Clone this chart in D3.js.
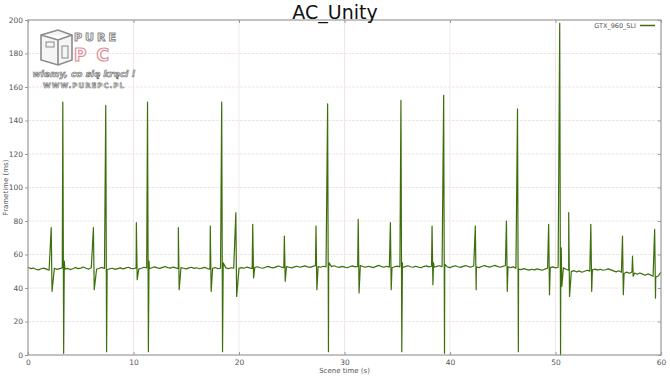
<!DOCTYPE html>
<html>
<head>
<meta charset="utf-8">
<script src="https://cdn.jsdelivr.net/npm/d3@7"></script>
<style>
  body { margin: 0; background: #fff; }
  svg { display: block; font-family: "DejaVu Sans", sans-serif; }
</style>
</head>
<body>
<div id="chart"></div>
<script>
// baseline frametime every 0.25 s (ms)
const baseStep = 0.25;
const baseline = [
  52.4, 51.6, 51.9, 51.2, 50.8, 51.5, 51.9, 51.3, 50.7, 51.4, 51.8, 51.1, 51.6, 52.0, 51.3, 51.7, 51.0, 51.5, 52.2, 51.6,
  51.9, 52.5, 51.8, 51.3, 52.1, 51.7, 51.2, 51.8, 52.3, 51.6, 50.9, 51.5, 51.8, 51.1, 51.6, 52.0, 51.4, 51.9, 52.4, 51.7,
  51.5, 52.0, 51.3, 51.8, 52.4, 52.0, 51.6, 52.1, 52.6, 52.0, 51.7, 52.3, 52.8, 52.2, 51.9, 52.5, 52.0, 51.6, 52.2, 51.8,
  51.4, 52.0, 52.4, 51.7, 52.1, 51.5, 51.9, 52.3, 51.6, 51.2, 51.8, 52.2, 51.5, 51.9, 52.4, 52.0, 51.6, 52.1, 51.8, 51.3,
  51.7, 52.2, 51.8, 52.5, 52.0, 51.6, 52.3, 52.7, 52.1, 51.8, 52.4, 52.9, 52.3, 52.0, 52.6, 53.1, 52.5, 52.2, 52.8, 52.4,
  52.0, 52.6, 53.0, 52.4, 52.8, 53.2, 52.6, 52.3, 52.9, 53.4, 52.8, 52.4, 53.0, 52.6, 52.2, 52.8, 53.3, 52.7, 52.3, 52.9,
  52.5, 52.1, 52.7, 53.2, 52.6, 52.9, 53.4, 52.8, 52.4, 53.0, 52.6, 52.2, 52.9, 53.5, 52.8, 52.4, 53.0, 52.5, 52.1, 52.7,
  53.1, 52.6, 52.2, 52.8, 53.3, 52.7, 52.4, 53.0, 52.5, 52.1, 52.8, 53.2, 52.6, 53.0, 52.4, 52.9, 53.3, 52.7, 52.2, 52.6,
  52.2, 52.8, 53.3, 52.7, 52.3, 52.9, 53.4, 52.8, 52.5, 53.1, 52.6, 52.2, 52.8, 53.4, 52.9, 52.5, 53.0, 53.5, 52.9, 52.4,
  52.9, 53.3, 52.7, 52.2, 52.6, 51.8, 51.3, 51.0, 51.6, 51.1, 50.7, 51.2, 50.8, 51.4, 51.0, 50.6, 51.3, 51.8, 52.2, 52.6,
  52.0, 52.4, 51.6, 52.1, 51.2, 50.6, 49.8, 50.4, 49.6, 50.2, 49.4, 50.0, 50.6, 50.1, 50.8, 51.3, 50.7, 51.2, 50.6, 50.9,
  51.4, 50.8, 50.2, 49.6, 50.3, 49.4, 48.7, 49.5, 48.8, 49.6, 48.9, 48.2, 49.0, 48.3, 47.6, 48.4, 47.8, 47.0, 46.5, 47.2,
  49.5
];

// stutter frames [time s, frametime ms]
const spikes = [
  [2.2, 76], [2.28, 38],
  [3.3, 151], [3.38, 1], [3.44, 56],
  [6.2, 76], [6.28, 39],
  [7.37, 149], [7.45, 2],
  [10.27, 79], [10.35, 45],
  [11.33, 151], [11.41, 2], [11.47, 56],
  [14.25, 76], [14.33, 39],
  [17.28, 77], [17.36, 38],
  [18.36, 151], [18.44, 2], [18.5, 55],
  [19.7, 85], [19.78, 35],
  [21.3, 78], [21.38, 46],
  [24.3, 71], [24.38, 44],
  [27.3, 77], [27.38, 39],
  [28.4, 150], [28.48, 2], [28.54, 55],
  [31.3, 81], [31.38, 37],
  [34.35, 79], [34.43, 39],
  [35.35, 152], [35.43, 2], [35.49, 55],
  [38.3, 77], [38.38, 42], [38.44, 55],
  [39.4, 155], [39.48, 1], [39.54, 54],
  [42.4, 77], [42.48, 39],
  [45.35, 80], [45.43, 38],
  [46.4, 147], [46.48, 2],
  [49.35, 78], [49.43, 36],
  [50.4, 198], [50.48, 0], [50.54, 64], [50.6, 41],
  [51.25, 85], [51.33, 35],
  [53.35, 78], [53.43, 38],
  [56.35, 71], [56.43, 36],
  [57.3, 59], [57.36, 47],
  [59.4, 75], [59.48, 34]
];

const xTicks = [0, 10, 20, 30, 40, 50, 60];
const yTicks = [0, 20, 40, 60, 80, 100, 120, 140, 160, 180, 200];
const seriesName = "GTX_960_SLI";

const W = 670, H = 377;
const margin = { top: 20, right: 9, bottom: 22, left: 28 };

const svg = d3.select("#chart").append("svg")
  .attr("width", W)
  .attr("height", H);

const x = d3.scaleLinear().domain([0, 60]).range([margin.left, W - margin.right]);
const y = d3.scaleLinear().domain([0, 200]).range([H - margin.bottom, margin.top]);

// grid
svg.append("g").selectAll("line.hg")
  .data(yTicks.slice(1, -1))
  .enter().append("line")
  .attr("x1", x(0)).attr("x2", x(60))
  .attr("y1", d => y(d)).attr("y2", d => y(d))
  .attr("stroke", "#f6e3e8")
  .attr("stroke-dasharray", "3,1");

svg.append("g").selectAll("line.vg")
  .data(xTicks.slice(1, -1))
  .enter().append("line")
  .attr("x1", d => x(d)).attr("x2", d => x(d))
  .attr("y1", y(0)).attr("y2", y(200))
  .attr("stroke", "#f1e7e9");

// logo watermark
const logo = svg.append("g").attr("opacity", 0.85);
logo.append("path")
  .attr("d", "M41,35 L58,30 L72,35 L72,60 L58,65 L41,60 Z M41,35 L58,40 L72,35 M58,40 L58,65")
  .attr("fill", "#f4f4f4").attr("stroke", "#777").attr("stroke-width", 1.6);
logo.append("rect").attr("x", 46).attr("y", 42).attr("width", 8).attr("height", 5)
  .attr("fill", "none").attr("stroke", "#777");
logo.append("rect").attr("x", 62).attr("y", 46).attr("width", 6).attr("height", 12)
  .attr("fill", "none").attr("stroke", "#777");
logo.append("text").attr("x", 74).attr("y", 41).text("PURE")
  .attr("font-size", 11).attr("font-weight", "bold").attr("letter-spacing", 3)
  .attr("fill", "#fff").attr("stroke", "#777").attr("stroke-width", 1);
logo.append("text").attr("x", 74).attr("y", 61).text("PC")
  .attr("font-size", 17).attr("font-weight", "bold").attr("letter-spacing", 10)
  .attr("fill", "#fff").attr("stroke", "#d77b86").attr("stroke-width", 1.2);
logo.append("text").attr("x", 84).attr("y", 77).text("wiemy, co się kręci !")
  .attr("text-anchor", "middle").attr("font-size", 9).attr("font-weight", "bold")
  .attr("font-style", "italic")
  .attr("fill", "#ddd").attr("stroke", "#555").attr("stroke-width", 0.6);
logo.append("text").attr("x", 84).attr("y", 88).text("WWW.PUREPC.PL")
  .attr("text-anchor", "middle").attr("font-size", 7).attr("font-weight", "bold")
  .attr("letter-spacing", 1)
  .attr("fill", "#eee").attr("stroke", "#666").attr("stroke-width", 0.6);

// data line
const points = baseline.map((v, i) => [i * baseStep, v])
  .concat(spikes)
  .sort((a, b) => a[0] - b[0]);

svg.append("path")
  .datum(points)
  .attr("fill", "none")
  .attr("stroke", "#3c6f0b")
  .attr("stroke-width", 1.2)
  .attr("stroke-linejoin", "round")
  .attr("d", d3.line().x(d => x(d[0])).y(d => y(d[1])));

// frame
svg.append("rect")
  .attr("x", x(0)).attr("y", y(200))
  .attr("width", x(60) - x(0)).attr("height", y(0) - y(200))
  .attr("fill", "none").attr("stroke", "#9a9a9a").attr("stroke-width", 1.2);

// axes
const axisLeft = svg.append("g")
  .attr("transform", `translate(${x(0)},0)`)
  .call(d3.axisLeft(y).tickValues(yTicks).tickSize(3).tickPadding(2));
const axisBottom = svg.append("g")
  .attr("transform", `translate(0,${y(0)})`)
  .call(d3.axisBottom(x).tickValues(xTicks).tickSize(-3).tickPadding(5));
const axisRight = svg.append("g")
  .attr("transform", `translate(${x(60)},0)`)
  .call(d3.axisRight(y).tickValues(yTicks).tickSize(-3).tickFormat(""));
const axisTop = svg.append("g")
  .attr("transform", `translate(0,${y(200)})`)
  .call(d3.axisTop(x).tickValues(xTicks).tickSize(-3).tickFormat(""));

[axisLeft, axisBottom, axisRight, axisTop].forEach(a => {
  a.select(".domain").remove();
  a.selectAll("line").attr("stroke", "#999");
  a.selectAll("text").attr("fill", "#555").attr("font-size", 7.5)
    .attr("font-family", "DejaVu Sans, sans-serif");
});

// titles
svg.append("text")
  .attr("x", W / 2).attr("y", 19)
  .attr("text-anchor", "middle")
  .attr("font-size", 19)
  .attr("fill", "#111")
  .text("AC_Unity");

svg.append("text")
  .attr("transform", `translate(8,${(y(0) + y(200)) / 2}) rotate(-90)`)
  .attr("text-anchor", "middle")
  .attr("font-size", 7)
  .attr("fill", "#555")
  .text("Frametime (ms)");

svg.append("text")
  .attr("x", (x(0) + x(60)) / 2).attr("y", 373)
  .attr("text-anchor", "middle")
  .attr("font-size", 7)
  .attr("fill", "#555")
  .text("Scene time (s)");

// legend
svg.append("text")
  .attr("x", 636).attr("y", 28)
  .attr("text-anchor", "end")
  .attr("font-size", 6.5)
  .attr("fill", "#555")
  .text(seriesName);
svg.append("line")
  .attr("x1", 640).attr("x2", 655)
  .attr("y1", 25.5).attr("y2", 25.5)
  .attr("stroke", "#3c6f0b").attr("stroke-width", 1.5);
</script>
</body>
</html>
